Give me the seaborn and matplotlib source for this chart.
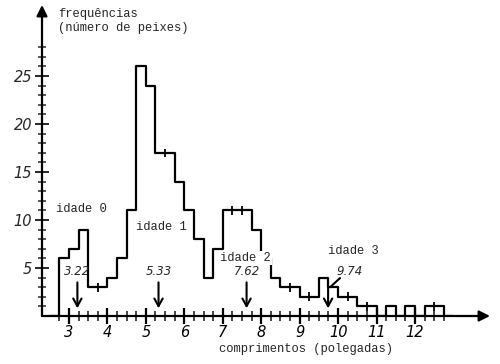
import numpy as np
import pandas as pd
import matplotlib
matplotlib.use("Agg")
import matplotlib.pyplot as plt
import seaborn as sns

# ---- data ----
bin_start = 2.75
bin_width = 0.25
counts = [6, 7, 9, 3, 3, 4, 6, 11, 26, 24, 17, 17, 14, 11, 8, 4, 7,
          11, 11, 11, 9, 6, 4, 3, 3, 2, 2, 4, 3, 2, 2, 1, 1, 0, 1, 0,
          1, 0, 1, 1]
ages = ["idade 0", "idade 1", "idade 2", "idade 3"]
mean_lengths = [3.22, 5.33, 7.62, 9.74]
mean_labels = ["3.22", "5.33", "7.62", "9.74"]
x_ticks = [3, 4, 5, 6, 7, 8, 9, 10, 11, 12]
y_ticks = [5, 10, 15, 20, 25]

edges = bin_start + bin_width * np.arange(len(counts) + 1)

sns.set_style("white")
plt.rcParams["font.family"] = ["DejaVu Sans"]
mono = ["Liberation Mono", "DejaVu Sans Mono"]

fig = plt.figure(figsize=(5.0, 3.64), dpi=100)
ax = fig.add_axes([42 / 500, 48 / 364, 448 / 500, 311 / 364])

# pad with zero bins so the outline closes to the baseline
pad_edges = np.concatenate([[edges[0] - bin_width], edges, [edges[-1] + bin_width]])
pad_centers = (pad_edges[:-1] + pad_edges[1:]) / 2
pad_counts = np.concatenate([[0], counts, [0]]).astype(float)
df = pd.DataFrame({"comprimento": pad_centers, "n": pad_counts})
sns.histplot(data=df, x="comprimento", weights="n", bins=[float(e) for e in pad_edges],
             element="step", fill=False, color="black", linewidth=1.6, ax=ax)

# small marks where neighbouring bins are equal
for i in range(1, len(counts)):
    if counts[i] == counts[i - 1] and counts[i] > 0:
        ax.plot([edges[i], edges[i]], [counts[i] - 0.45, counts[i] + 0.45],
                color="black", lw=1.3, solid_capstyle="butt")

ax.set_xlim(2.30, 13.95)
ax.set_ylim(0, 32.4)
ax.set_xlabel("")
ax.set_ylabel("")
for s in ax.spines.values():
    s.set_visible(False)

# axes with arrows
ax.annotate("", xy=(1.0, 0), xycoords="axes fraction", xytext=(0, 0),
            arrowprops=dict(arrowstyle="-|>", color="black", lw=1.6,
                            mutation_scale=16, shrinkA=0, shrinkB=0))
ax.annotate("", xy=(0, 1.0), xycoords="axes fraction", xytext=(0, 0),
            arrowprops=dict(arrowstyle="-|>", color="black", lw=1.6,
                            mutation_scale=16, shrinkA=0, shrinkB=0))

ax.set_xticks(x_ticks)
ax.set_xticklabels([str(t) for t in x_ticks], fontsize=10.5, style="italic")
ax.set_xticks(edges, minor=True)
ax.set_yticks(y_ticks)
ax.set_yticklabels([str(t) for t in y_ticks], fontsize=10.5, style="italic")
ax.set_yticks(np.arange(1, 29), minor=True)
ax.tick_params(axis="x", which="major", direction="inout", length=11, width=1.6,
               bottom=True, pad=1, colors="black")
ax.tick_params(axis="x", which="minor", direction="inout", length=7, width=1.2,
               bottom=True)
ax.tick_params(axis="y", which="major", direction="inout", length=10, width=1.4,
               left=True, pad=2)
ax.tick_params(axis="y", which="minor", direction="inout", length=6, width=1.1,
               left=True)

# text labels
fig.text(58 / 500, 1 - 21 / 364, "frequências\n(número de peixes)", family=mono,
         fontsize=8.7, ha="left", va="center", linespacing=1.25)
fig.text(306 / 500, 1 - 349 / 364, "comprimentos (polegadas)", family=mono,
         fontsize=8.7, ha="center", va="center")

age_pos = [(3.33, 11.1), (5.41, 9.3), (7.60, 6.06), (10.40, 6.76)]
for name, (px, py) in zip(ages, age_pos):
    bbox = dict(facecolor="white", edgecolor="none", pad=0.5) if name == "idade 2" else None
    ax.text(px, py, name, family=mono, fontsize=8.7, ha="center", va="center", bbox=bbox)

arrow_kw = dict(arrowstyle="->,head_width=0.3,head_length=0.55", color="black",
                lw=1.5, shrinkA=0, shrinkB=0)
for m, lab in zip(mean_lengths[:3], mean_labels[:3]):
    ax.text(m, 4.6, lab, fontsize=8.5, style="italic", ha="center", va="center")
    ax.annotate("", xy=(m, 0.8), xytext=(m, 3.5), arrowprops=arrow_kw)
m = mean_lengths[3]
ax.text(10.31, 4.6, mean_labels[3], fontsize=8.5, style="italic", ha="center", va="center")
ax.plot([10.05, m + 0.05], [3.95, 3.0], color="black", lw=1.5)
ax.annotate("", xy=(m, 0.8), xytext=(m, 3.0), arrowprops=arrow_kw)

fig.savefig("out.png", dpi=100)
